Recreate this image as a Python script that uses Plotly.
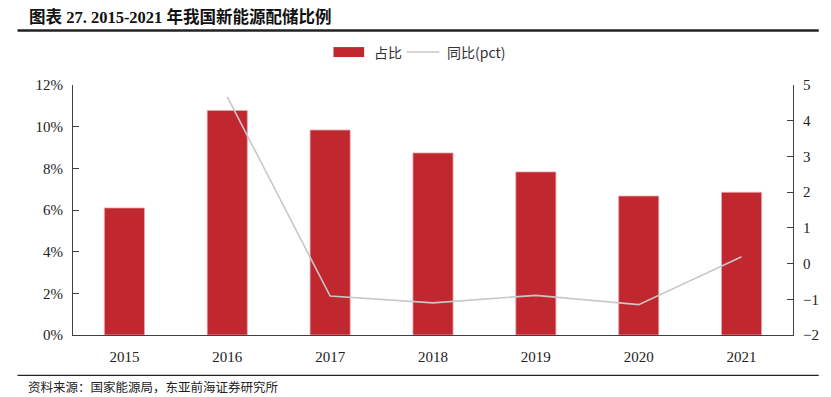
import plotly.graph_objects as go

years = ["2015", "2016", "2017", "2018", "2019", "2020", "2021"]
share_pct = [6.1, 10.78, 9.84, 8.74, 7.83, 6.67, 6.85]          # 占比 (%)
yoy_pct = [None, 4.67, -0.91, -1.1, -0.89, -1.15, 0.19]         # 同比 (pct)
left_ticks = [0, 2, 4, 6, 8, 10, 12]
left_tick_text = ["0%", "2%", "4%", "6%", "8%", "10%", "12%"]
right_ticks = [-2, -1, 0, 1, 2, 3, 4, 5]

W, H = 831, 397
X0, X1, YT, YB = 73, 800, 85, 335.5

def px(x):
    return (x - X0) / (X1 - X0)

def py(y):
    return (YB - y) / (YB - YT)

BAR = "#C1272F"
LINE = "#C8C8C8"
AX = "#404040"
SERIF = "Liberation Serif, Times New Roman, serif"
CJK = "Noto Sans CJK SC, sans-serif"

fig = go.Figure()
fig.add_trace(go.Bar(
    x=years, y=share_pct, name="占比",
    marker=dict(color=BAR, line=dict(color="#E7A9AC", width=0.8)),
    width=0.39, yaxis="y", showlegend=False,
))
fig.add_trace(go.Scatter(
    x=years, y=yoy_pct, name="同比(pct)", mode="lines",
    line=dict(color=LINE, width=1.6), yaxis="y2", showlegend=False,
    connectgaps=False,
))

shapes = [
    # title underline
    dict(type="line", xref="paper", yref="paper", x0=px(17), x1=px(826), y0=py(30.5), y1=py(30.5),
         line=dict(color="#222222", width=2.5)),
    # source line
    dict(type="line", xref="paper", yref="paper", x0=px(17), x1=px(826), y0=py(376), y1=py(376),
         line=dict(color="#222222", width=1.2)),
    # legend: bar swatch
    dict(type="rect", xref="paper", yref="paper", x0=px(336), x1=px(367), y0=py(57), y1=py(47),
         fillcolor=BAR, line=dict(width=0)),
    # legend: line swatch
    dict(type="line", xref="paper", yref="paper", x0=px(410), x1=px(443), y0=py(52), y1=py(52),
         line=dict(color=LINE, width=1.6)),
]

annotations = [
    dict(text="<b>图表 27. 2015-2021 年我国新能源配储比例</b>", xref="paper", yref="paper",
         x=px(27), y=py(17), xanchor="left", yanchor="middle", showarrow=False,
         font=dict(family="Liberation Serif, Noto Sans CJK SC, serif", size=16.5, color="#111111")),
    dict(text="资料来源：国家能源局，东亚前海证券研究所", xref="paper", yref="paper",
         x=px(26), y=py(387), xanchor="left", yanchor="middle", showarrow=False,
         font=dict(family=CJK, size=12.5, color="#222222")),
    dict(text="占比", xref="paper", yref="paper",
         x=px(375), y=py(52), xanchor="left", yanchor="middle", showarrow=False,
         font=dict(family=CJK, size=14, color="#333333")),
    dict(text="同比(pct)", xref="paper", yref="paper",
         x=px(449), y=py(52), xanchor="left", yanchor="middle", showarrow=False,
         font=dict(family=CJK, size=14, color="#333333")),
]

fig.update_layout(
    width=W, height=H,
    margin=dict(l=X0, r=W - X1, t=YT, b=H - YB, pad=0),
    paper_bgcolor="white", plot_bgcolor="white",
    bargap=0.6,
    shapes=shapes, annotations=annotations,
    xaxis=dict(
        type="category", showline=True, linecolor=AX, linewidth=1,
        ticks="", showgrid=False, zeroline=False,
        tickfont=dict(family=SERIF, size=15, color="#222222"),
        ticklabelstandoff=8,
    ),
    yaxis=dict(
        range=[0, 12], tickvals=left_ticks, ticktext=left_tick_text,
        showline=True, linecolor=AX, linewidth=1,
        ticks="inside", ticklen=6, tickcolor=AX,
        showgrid=False, zeroline=False,
        tickfont=dict(family=SERIF, size=15, color="#222222"),
        ticklabelstandoff=6,
    ),
    yaxis2=dict(
        range=[-2, 5], tickvals=right_ticks, overlaying="y", side="right",
        showline=True, linecolor=AX, linewidth=1,
        ticks="inside", ticklen=6, tickcolor=AX,
        showgrid=False, zeroline=False,
        tickfont=dict(family=SERIF, size=15, color="#222222"),
        ticklabelstandoff=6,
    ),
)

fig.write_html(
    "out.html",
    config={"displayModeBar": False},
    post_script="document.body.style.margin='0';document.body.style.overflow='hidden';",
)
